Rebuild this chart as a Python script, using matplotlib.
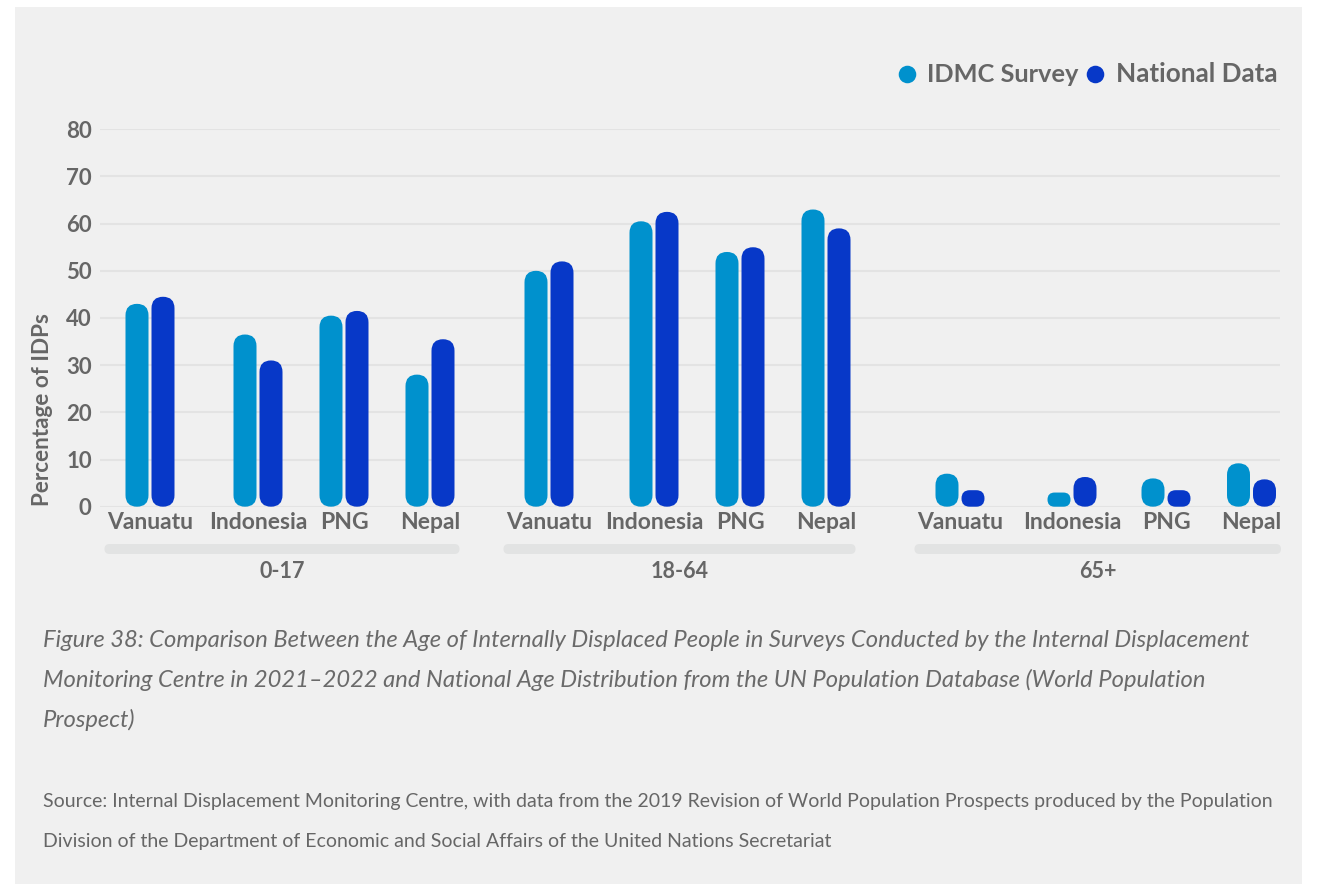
import matplotlib
matplotlib.use("Agg")
import matplotlib.pyplot as plt
from matplotlib.patches import FancyBboxPatch, Rectangle

# --- data ---
countries = ["Vanuatu", "Indonesia", "PNG", "Nepal"]
age_groups = ["0-17", "18-64", "65+"]

idmc_0_17 = [43, 36.5, 40.5, 28]
nat_0_17 = [44.5, 31, 41.5, 35.5]
idmc_18_64 = [50, 60.5, 54, 63]
nat_18_64 = [52, 62.5, 55, 59]
idmc_65 = [7, 3, 6, 9.2]
nat_65 = [3.5, 6.3, 3.5, 5.8]

idmc = [idmc_0_17, idmc_18_64, idmc_65]
national = [nat_0_17, nat_18_64, nat_65]

yticks = [0, 10, 20, 30, 40, 50, 60, 70, 80]

caption = [
    "Figure 38: Comparison Between the Age of Internally Displaced People in Surveys Conducted by the Internal Displacement",
    "Monitoring Centre in 2021\u20132022 and National Age Distribution from the UN Population Database (World Population",
    "Prospect)",
]
source = [
    "Source: Internal Displacement Monitoring Centre, with data from the 2019 Revision of World Population Prospects produced by the Population",
    "Division of the Department of Economic and Social Affairs of the United Nations Secretariat",
]

# --- style ---
W, H = 1317, 884
c_idmc = "#0091cd"
c_nat = "#0738c8"
grey = "#666666"
panel = "#f0f0f0"
grid = "#e3e3e3"
pill = "#e2e3e3"

plt.rcParams["font.family"] = ["Lato", "DejaVu Sans"]

fig = plt.figure(figsize=(W / 100, H / 100), dpi=100)
fig.patch.set_facecolor("white")
renderer = fig.canvas.get_renderer()


def fit(t, width):
    # scale font so the text spans the given pixel width
    w = t.get_window_extent(renderer).width
    t.set_fontsize(t.get_fontsize() * width / w)
    return t.get_fontsize()


# background layer in pixel coordinates
bg = fig.add_axes([0, 0, 1, 1], zorder=0)
bg.set_xlim(0, W)
bg.set_ylim(H, 0)
bg.axis("off")
bg.add_patch(Rectangle((15, 7), W - 30, H, color=panel, lw=0))

# plot area: x in pixels, y in percent
x0, x1 = 100, 1280
y_top, y_zero = 129.3, 506.7
ax = fig.add_axes([x0 / W, 1 - y_zero / H, (x1 - x0) / W, (y_zero - y_top) / H], zorder=1)
ax.set_xlim(x0, x1)
ax.set_ylim(0, 80)
ax.patch.set_alpha(0)
for s in ax.spines.values():
    s.set_visible(False)
ax.set_yticks(yticks)
ax.yaxis.grid(True, color=grid, lw=1.5)
ax.set_axisbelow(True)
ax.tick_params(length=0)

# layout of bar slots (px)
group_start = [137, 536, 947]
country_offsets = [[0, 108, 194, 280], [0, 105, 191, 277], [0, 112, 206, 291.5]]
pair_gap = 26
bar_w = 23
aspect = 80 / (y_zero - y_top)

centers, labels = [], []
for g in range(3):
    xs = [group_start[g] + o for o in country_offsets[g]]
    b1 = ax.bar(xs, idmc[g], width=bar_w, color=c_idmc)
    b2 = ax.bar([x + pair_gap for x in xs], national[g], width=bar_w, color=c_nat)
    for b in list(b1) + list(b2):
        w, h = b.get_width(), b.get_height()
        r = min(w, h / aspect) / 2
        p = FancyBboxPatch((b.get_x(), 0), w, h,
                           boxstyle=f"round,pad=0,rounding_size={r}",
                           mutation_aspect=aspect, fc=b.get_facecolor(),
                           ec="none", zorder=3)
        b.remove()
        ax.add_patch(p)
    centers += [x + pair_gap / 2 for x in xs]
    labels += countries

    # group pill + label
    left = xs[0] - bar_w / 2 - 21
    right = xs[-1] + pair_gap + bar_w / 2 + 5
    bg.add_patch(FancyBboxPatch((left, 544), right - left, 10,
                                boxstyle="round,pad=0,rounding_size=5",
                                fc=pill, ec="none"))
    bg.text((left + right) / 2, 572, age_groups[g], ha="center", va="center",
            fontsize=15.5, fontweight="bold", color=grey)

ax.set_xticks(centers, labels)
ax.tick_params(axis="x", pad=4, labelsize=16.5, labelcolor=grey)
ax.tick_params(axis="y", pad=6, labelsize=16, labelcolor=grey)
for t in ax.get_xticklabels() + ax.get_yticklabels():
    t.set_fontweight("bold")

# y label
yl = bg.text(43, 410, "Percentage of IDPs", rotation=90, ha="center", va="center",
             fontsize=13, fontweight="bold", color=grey)
w = yl.get_window_extent(renderer).height
yl.set_fontsize(yl.get_fontsize() * 193 / w)

# legend
bg.scatter([906.5], [74], s=160, color=c_idmc, lw=0)
t1 = bg.text(927, 74, "IDMC Survey", ha="left", va="center",
             fontsize=16, fontweight="bold", color=grey)
fit(t1, 152)
bg.scatter([1094.7], [74], s=160, color=c_nat, lw=0)
t2 = bg.text(1116, 74, "National Data", ha="left", va="center",
             fontsize=16, fontweight="bold", color=grey)
fit(t2, 162)

# caption
c0 = bg.text(43, 647, caption[0], ha="left", va="baseline", fontsize=14,
             fontstyle="italic", color="#6a6a6a")
fs = fit(c0, 1213)
for i, line in enumerate(caption[1:], start=1):
    bg.text(43, 647 + 40 * i, line, ha="left", va="baseline", fontsize=fs,
            fontstyle="italic", color="#6a6a6a")

# source
s0 = bg.text(43, 807, source[0], ha="left", va="baseline", fontsize=12,
             color=grey)
fs = fit(s0, 1226)
bg.text(43, 847, source[1], ha="left", va="baseline", fontsize=fs, color=grey)

fig.savefig("out.png", dpi=100, facecolor="white")
